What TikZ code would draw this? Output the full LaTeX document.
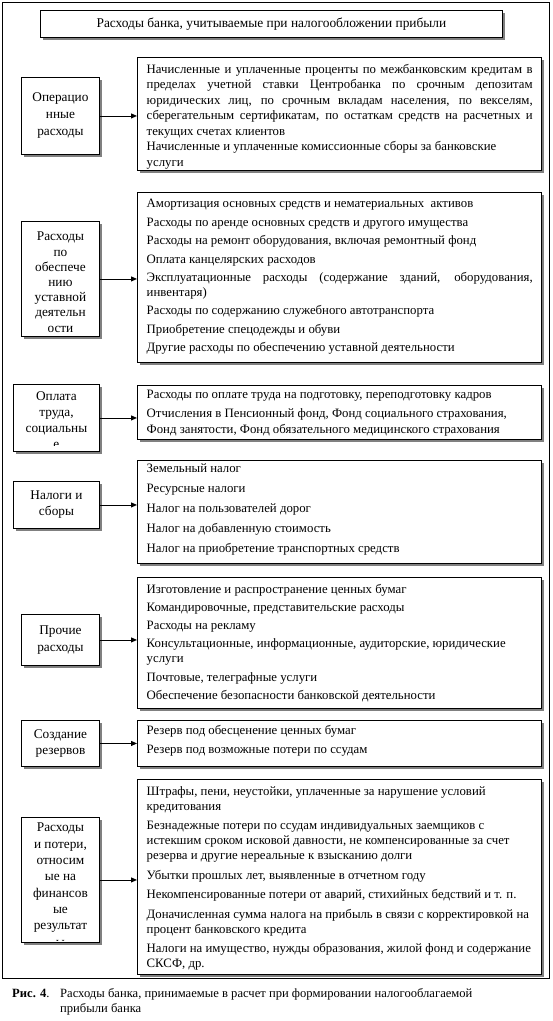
\documentclass[tikz,border=0pt]{standalone}
\usepackage{fontspec}
\setmainfont{Liberation Serif}
\usetikzlibrary{shadows,arrows.meta}
\newcommand{\gp}[1]{\\[#1]}
\tikzset{
  x=1pt, y=-1pt,
  shbox/.style={draw, line width=0.9pt, fill=white,
    drop shadow={shadow xshift=3pt, shadow yshift=-3pt, fill=black!50, opacity=1}},
  lbox/.style={shbox, anchor=north west, inner sep=0pt},
  ltext/.style={anchor=north, align=center, inner sep=0pt},
  lf/.style={font=\fontsize{13.3}{#1}\selectfont},
  rbox/.style={shbox, anchor=north west, minimum width=404pt, inner sep=0pt},
  rtext/.style={anchor=north west, text width=386pt, inner sep=0pt, align=justify},
  rf/.style={font=\fontsize{12.8}{#1}\selectfont},
  conn/.style={-{Triangle[length=6pt,width=5pt]}, line width=0.9pt},
}
\begin{document}
\begin{tikzpicture}
\useasboundingbox (0,0) rectangle (553,1021);
\fill[white] (0,0) rectangle (553,1021);
\draw[line width=0.9pt] (2,2) rectangle (549,978);

\node[shbox, anchor=north west, minimum width=462pt, minimum height=27pt,
  inner sep=0pt, font=\fontsize{13.4}{15}\selectfont] (T) at (40,10)
  {Расходы банка, учитываемые при налогообложении прибыли};

% Row 1
\node[lbox, minimum width=78pt, minimum height=77pt] (L1) at (21,77) {};
\node[ltext, lf=17, anchor=center] (t1) at (L1.center) {Операцио\\нные\\расходы};
\node[rbox, minimum height=113pt] (R1) at (137,57) {};
\node[rtext, rf=15.5] (r1) at ([xshift=9.5pt,yshift=-7pt]R1.north west)
{Начисленные и уплаченные проценты по межбанковским кредитам в\linebreak
пределах учетной ставки Центробанка по срочным депозитам\linebreak
юридических лиц, по срочным вкладам населения, по векселям,\linebreak
сберегательным сертификатам, по остаткам средств на расчетных и\linebreak
текущих счетах клиентов\\
Начисленные и уплаченные комиссионные сборы за банковские\\
услуги};
\draw[conn] (L1.east) -- (L1.east -| R1.west);

% Row 2
\node[lbox, minimum width=78pt, minimum height=115pt] (L2) at (21,221) {};
\node[ltext, lf=15.2] (t2) at ([yshift=-11pt]L2.north) {Расходы\\по\\обеспече\\нию\\уставной\\деятельн\\ости};
\node[rbox, minimum height=170pt] (R2) at (137,192) {};
\node[rtext, rf=14.5] (r2) at ([xshift=9.5pt,yshift=-7pt]R2.north west)
{Амортизация основных средств и нематериальных \ активов\gp{4pt}
Расходы по аренде основных средств и другого имущества\gp{4pt}
Расходы на ремонт оборудования, включая ремонтный фонд\gp{4pt}
Оплата канцелярских расходов\gp{4pt}
Эксплуатационные расходы (содержание зданий, оборудования,\linebreak
инвентаря)\gp{4pt}
Расходы по содержанию служебного автотранспорта\gp{4pt}
Приобретение спецодежды и обуви\gp{4pt}
Другие расходы по обеспечению уставной деятельности};
\draw[conn] (L2.east) -- (L2.east -| R2.west);

% Row 3
\node[lbox, minimum width=86pt, minimum height=67pt] (L3) at (13,384) {};
\begin{scope}
\clip (L3.north west) rectangle ([yshift=6.5pt]L3.south east);
\node[ltext, lf=16.3] (t3) at ([yshift=-7pt]L3.north) {Оплата\\труда,\\социальны\\е};
\end{scope}
\node[rbox, minimum height=54pt] (R3) at (137,385) {};
\node[rtext, rf=15.5] (r3) at ([xshift=9.5pt,yshift=-5pt]R3.north west)
{Расходы по оплате труда на подготовку, переподготовку кадров\gp{3.5pt}
Отчисления в Пенсионный фонд, Фонд социального страхования,\\
Фонд занятости, Фонд обязательного медицинского страхования};
\draw[conn] (L3.east) -- (L3.east -| R3.west);

% Row 4
\node[lbox, minimum width=86pt, minimum height=47pt] (L4) at (13,481) {};
\node[ltext, lf=16, anchor=center] (t4) at (L4.center) {Налоги и\\сборы};
\node[rbox, minimum height=103pt] (R4) at (137,460) {};
\node[rtext, rf=15.5] (r4) at ([xshift=9.5pt,yshift=-4pt]R4.north west)
{Земельный налог\gp{4.5pt}
Ресурсные налоги\gp{4.5pt}
Налог на пользователей дорог\gp{4.5pt}
Налог на добавленную стоимость\gp{4.5pt}
Налог на приобретение транспортных средств};
\draw[conn] (L4.east) -- (L4.east -| R4.west);

% Row 5
\node[lbox, minimum width=78pt, minimum height=51pt] (L5) at (21,614) {};
\node[ltext, lf=17, anchor=center] (t5) at (L5.center) {Прочие\\расходы};
\node[rbox, minimum height=131pt] (R5) at (137,577) {};
\node[rtext, rf=15] (r5) at ([xshift=9.5pt,yshift=-7pt]R5.north west)
{Изготовление и распространение ценных бумаг\gp{3.2pt}
Командировочные, представительские расходы\gp{3.2pt}
Расходы на рекламу\gp{3.2pt}
Консультационные, информационные, аудиторские, юридические\\
услуги\gp{3.2pt}
Почтовые, телеграфные услуги\gp{3.2pt}
Обеспечение безопасности банковской деятельности};
\draw[conn] (L5.east) -- (L5.east -| R5.west);

% Row 6
\node[lbox, minimum width=78pt, minimum height=46pt] (L6) at (21,720) {};
\node[ltext, lf=16, anchor=center] (t6) at (L6.center) {Создание\\резервов};
\node[rbox, minimum height=46pt] (R6) at (137,720) {};
\node[rtext, rf=15] (r6) at ([xshift=9.5pt,yshift=-5pt]R6.north west)
{Резерв под обесценение ценных бумаг\gp{4pt}
Резерв под возможные потери по ссудам};
\draw[conn] (L6.east) -- (L6.east -| R6.west);

% Row 7
\node[lbox, minimum width=78pt, minimum height=125pt] (L7) at (21,817) {};
\begin{scope}
\clip (L7.north west) rectangle ([yshift=2pt]L7.south east);
\node[ltext, lf=16.3] (t7) at ([yshift=-6pt]L7.north) {Расходы\\и потери,\\относим\\ые на\\финансов\\ые\\результат\\ы};
\end{scope}
\node[rbox, minimum height=195pt] (R7) at (137,779) {};
\node[rtext, rf=15] (r7) at ([xshift=9.5pt,yshift=-7pt]R7.north west)
{Штрафы, пени, неустойки, уплаченные за нарушение условий\\
кредитования\gp{4.5pt}
Безнадежные потери по ссудам индивидуальных заемщиков с\\
истекшим сроком исковой давности, не компенсированные за счет\\
резерва и другие нереальные к взысканию долги\gp{4.5pt}
Убытки прошлых лет, выявленные в отчетном году\gp{4.5pt}
Некомпенсированные потери от аварий, стихийных бедствий и т. п.\gp{4.5pt}
Доначисленная сумма налога на прибыль в связи с корректировкой на\\
процент банковского кредита\gp{4.5pt}
Налоги на имущество, нужды образования, жилой фонд и содержание\\
СКСФ, др.};
\draw[conn] (L7.east) -- (L7.east -| R7.west);

% Caption
\node[anchor=base west, inner sep=0pt, font=\fontsize{12.6}{15}\selectfont] (C0) at (12,997) {\textbf{Рис. 4}.};
\node[anchor=base west, inner sep=0pt, font=\fontsize{12.6}{15}\selectfont] (C1) at (60,997)
  {Расходы банка, принимаемые в расчет при формировании налогооблагаемой};
\node[anchor=base west, inner sep=0pt, font=\fontsize{12.6}{15}\selectfont] (C2) at (60,1012)
  {прибыли банка};
\end{tikzpicture}
\end{document}
